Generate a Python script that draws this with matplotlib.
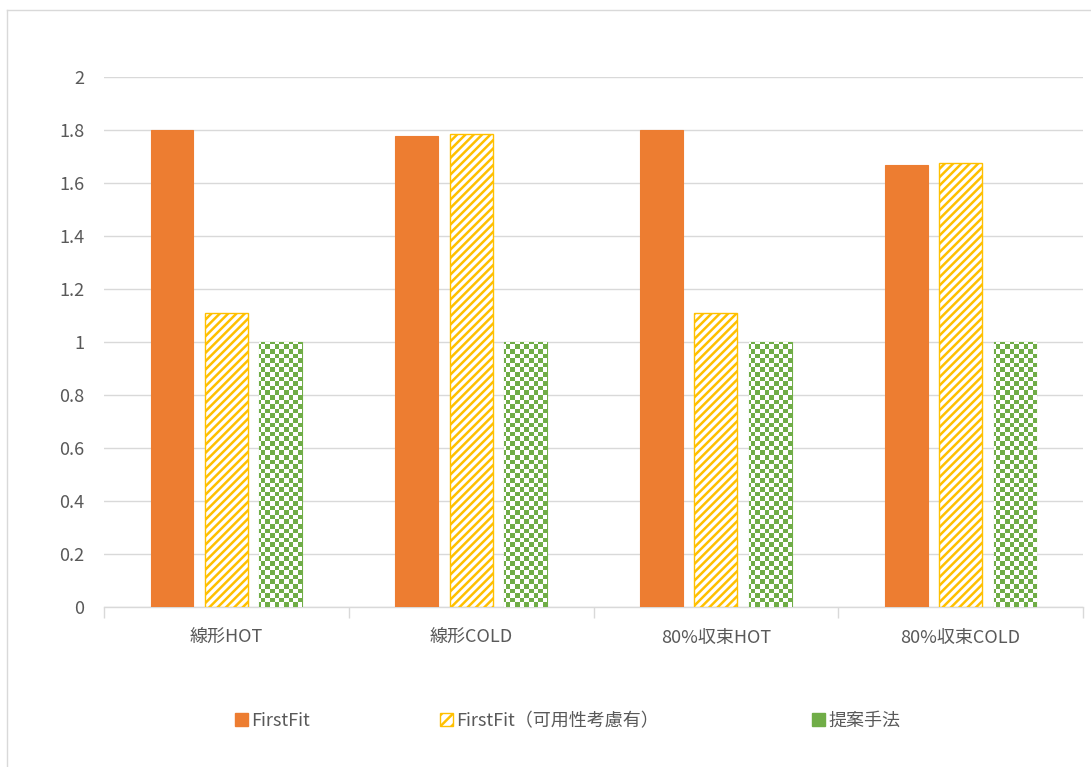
#bar chart comparing FirstFit variants with the proposed method
import matplotlib
matplotlib.use('Agg')
import matplotlib.pyplot as plt
import numpy as np
from matplotlib.lines import Line2D
from matplotlib.patches import Patch

plt.rcParams['font.family'] = ['Noto Sans CJK JP', 'DejaVu Sans']
plt.rcParams['hatch.linewidth'] = 1.8

#data
categories = ['線形HOT', '線形COLD', '80%収束HOT', '80%収束COLD']
series_names = ['FirstFit', 'FirstFit（可用性考慮有）', '提案手法']
firstfit = [1.8, 1.778, 1.8, 1.668]
firstfit_avail = [1.11, 1.785, 1.11, 1.674]
proposed = [1.0, 1.0, 1.0, 1.0]
yticks = [0, 0.2, 0.4, 0.6, 0.8, 1, 1.2, 1.4, 1.6, 1.8, 2]

orange = '#ED7D31'
yellow = '#FFC000'
green = '#70AD47'
grid = '#D9D9D9'
text = '#595959'

fig = plt.figure(figsize=(10.91, 7.67), dpi=100)
ax = fig.add_axes([104/1091, 1-607/767, 979/1091, 530/767])

x = np.arange(len(categories))
w = 0.175
step = 0.222

b1 = ax.bar(x - step, firstfit, w, color=orange, edgecolor=orange, linewidth=0.8, zorder=3)
b2 = ax.bar(x, firstfit_avail, w, color='white', edgecolor=yellow, hatch='////', linewidth=1.0, zorder=3)
b3 = ax.bar(x + step, proposed, w, color='white', edgecolor=green, linewidth=0.8, zorder=3)

#checkerboard fill for the proposed method, clipped to each bar
cell = 4.6
nx = int(979 / cell)
ny = int(530 / cell)
checker = (np.indices((ny, nx)).sum(axis=0) % 2).astype(float)
cmap = matplotlib.colors.ListedColormap(['white', green])
for bar in b3:
    im = ax.imshow(checker, cmap=cmap, interpolation='nearest', aspect='auto',
                   extent=[0, 1, 0, 1], transform=ax.transAxes, zorder=3)
    im.set_clip_path(bar)

ax.set_xlim(-0.5, len(categories) - 0.5)
ax.set_ylim(0, 2)
ax.set_yticks(yticks)
ax.set_yticklabels([f'{v:g}' for v in yticks])
ax.yaxis.grid(True, color=grid, linewidth=1.0, zorder=0)
ax.set_axisbelow(True)

ax.set_xticks(x)
ax.set_xticklabels(categories)
ax.set_xticks(np.arange(-0.5, len(categories), 1), minor=True)
ax.tick_params(axis='x', which='major', length=0, pad=16, labelsize=13, labelcolor=text)
ax.tick_params(axis='x', which='minor', length=8, color=grid, width=1.0)
ax.tick_params(axis='y', length=0, pad=14, labelsize=13, labelcolor=text)

for s in ['top', 'right', 'left']:
    ax.spines[s].set_visible(False)
ax.spines['bottom'].set_color(grid)
ax.spines['bottom'].set_linewidth(1.0)

#legend below the plot, one entry per slot
handles = [Patch(facecolor=orange, edgecolor=orange),
           Patch(facecolor='white', edgecolor=yellow, hatch='///'),
           Patch(facecolor=green, edgecolor=green, hatch='++')]
slots = [235, 440, 812]
for h, name, px in zip(handles, series_names, slots):
    leg = fig.legend([h], [name], loc='center left', bbox_to_anchor=(px/1091, 1-721/767),
                     frameon=False, fontsize=13, handlelength=0.7, handleheight=0.7,
                     handletextpad=0.2, borderpad=0, borderaxespad=0)
    for t in leg.get_texts():
        t.set_color(text)

#chart area border (only top and left edges show)
fig.add_artist(Line2D([7/1091, 1.0], [1-10/767, 1-10/767], color=grid, linewidth=1.0))
fig.add_artist(Line2D([7/1091, 7/1091], [0, 1-10/767], color=grid, linewidth=1.0))

fig.savefig('out.png', dpi=100)
